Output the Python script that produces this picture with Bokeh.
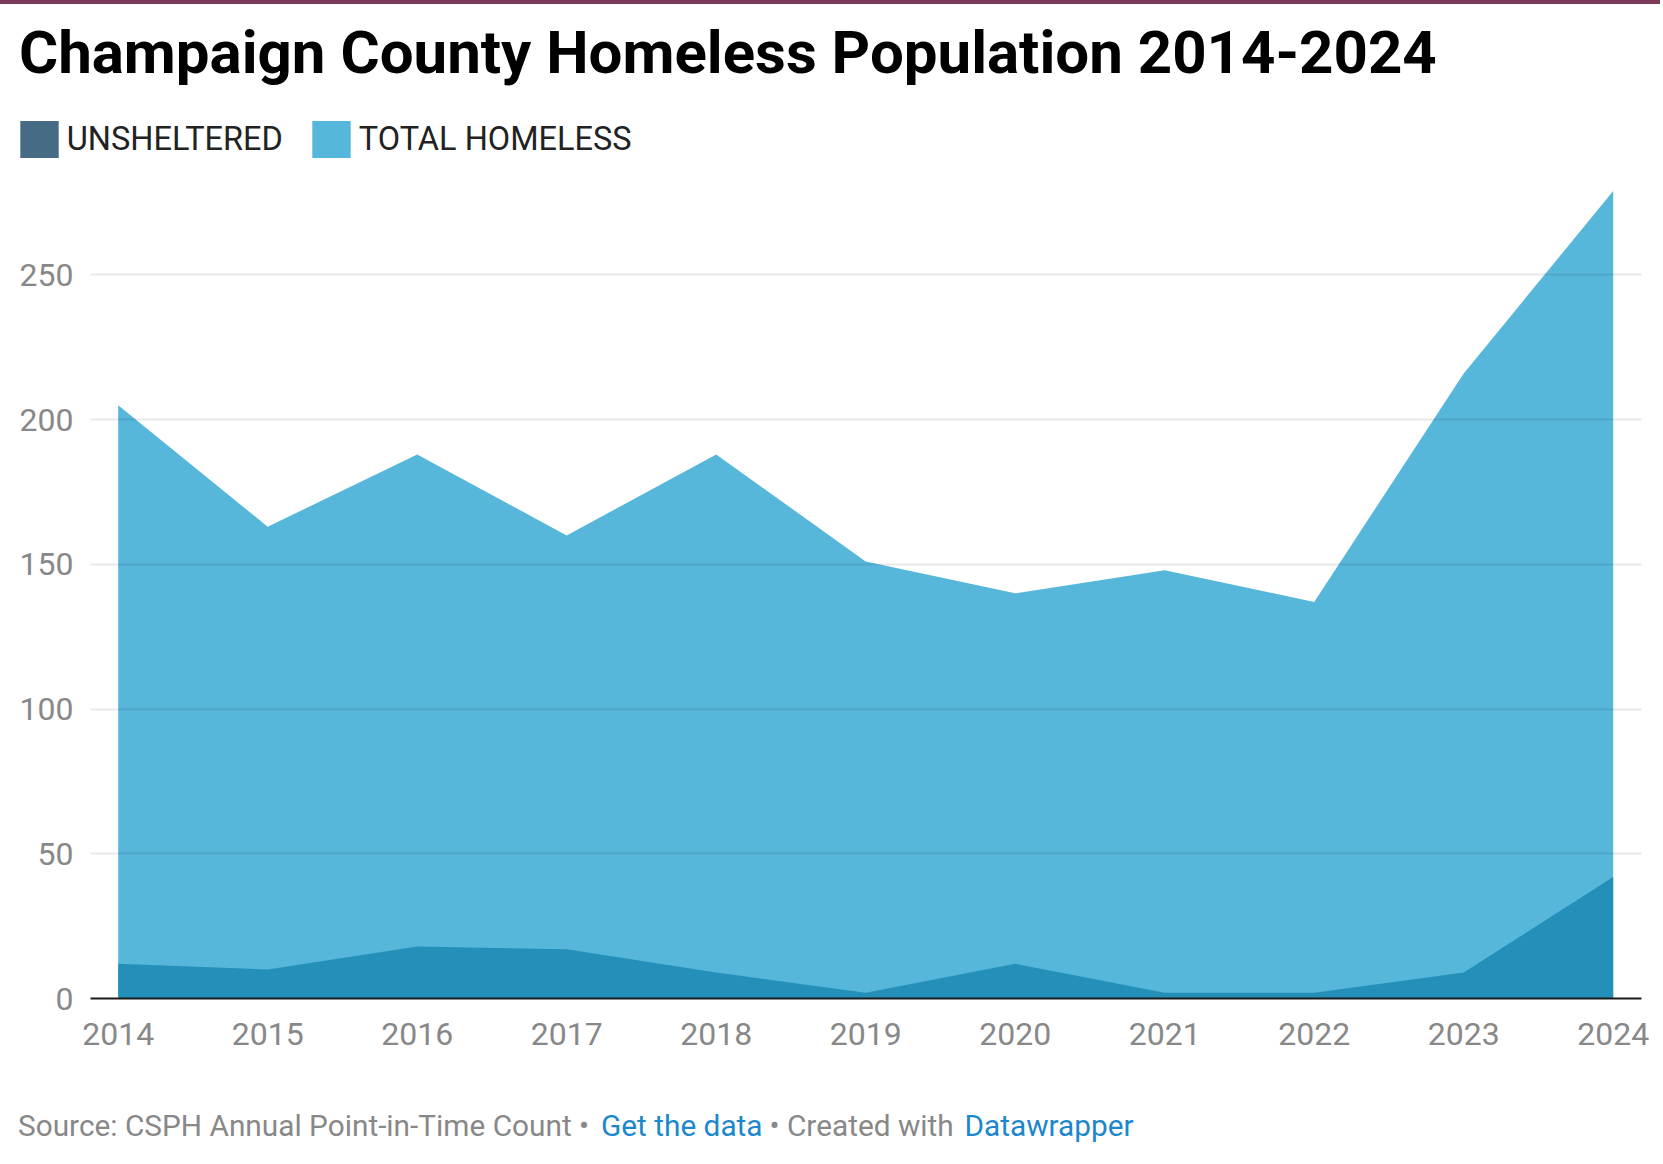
from bokeh.plotting import figure
from bokeh.models import Range1d, FixedTicker, Label, Legend, LegendItem, Div
from bokeh.layouts import column
from bokeh.embed import file_html
from bokeh.resources import INLINE

# ---------------- data ----------------
years = [2014, 2015, 2016, 2017, 2018, 2019, 2020, 2021, 2022, 2023, 2024]
total_homeless = [205, 163, 188, 160, 188, 151, 140, 148, 137, 216, 279]
unsheltered = [12, 10, 18, 17, 9, 2, 12, 2, 2, 9, 42]
year_labels = [str(y) for y in years]
y_ticks = [0, 50, 100, 150, 200, 250]
grid_ticks = [50, 100, 150, 200, 250]
series_names = ["UNSHELTERED", "TOTAL HOMELESS"]

title_text = "Champaign County Homeless Population 2014-2024"
footer_parts = ["Source: CSPH Annual Point-in-Time Count \u2022", "Get the data",
                "\u2022 Created with", "Datawrapper"]

# ---------------- style ----------------
FONT = "Roboto"
C_TOTAL = "#56b7db"
C_UNSH = "#2490ba"
C_LEG_UNSH = "#456b85"
C_LEG_TOTAL = "#56b7dc"
C_AXIS_TXT = "#888888"
C_LINK = "#1d87cc"

W = 1660


def blank_fig(height):
    f = figure(width=W, height=height, output_backend="svg", toolbar_location=None,
               x_axis_location=None, y_axis_location=None,
               x_range=Range1d(0, 1), y_range=Range1d(0, 1),
               min_border_left=0, min_border_right=0, min_border_top=0,
               min_border_bottom=0)
    f.outline_line_color = None
    f.grid.visible = False
    try:
        f.frame_align = False
    except Exception:
        pass
    return f


# ---------------- header (title + legend) ----------------
HH = 162
head = blank_fig(HH)
head.add_layout(Label(x=18.4, y=114.5, x_units="screen", y_units="screen",
                      text=title_text, text_font=FONT, text_font_size="60px",
                      text_font_style="bold", text_color="#000000",
                      text_baseline="alphabetic", text_align="left"))
# hidden copies of the series, used only for the legend swatches
leg_u = head.varea(x=years, y1=0, y2=unsheltered, fill_color=C_LEG_UNSH, visible=False)
leg_t = head.varea(x=years, y1=0, y2=total_homeless, fill_color=C_LEG_TOTAL, visible=False)
legend = Legend(items=[LegendItem(label=series_names[0], renderers=[leg_u]),
                       LegendItem(label=series_names[1], renderers=[leg_t])],
                orientation="horizontal", location=(14.8, 3.6),
                glyph_width=48, glyph_height=46, label_standoff=4,
                spacing=24, padding=0, margin=0, border_line_color=None,
                background_fill_alpha=0, inactive_fill_alpha=0,
                label_text_font=FONT,
                label_text_font_size="32.5px", label_text_color="#222222")
head.add_layout(legend)

# ---------------- main chart ----------------
p = figure(width=W, height=894, output_backend="svg", toolbar_location=None,
           x_range=Range1d(2013.8147, 2024.1893), y_range=Range1d(0, 286.1),
           min_border_left=90, min_border_right=19, min_border_top=4,
           min_border_bottom=62)
p.outline_line_color = None
try:
    p.frame_align = False
except Exception:
    pass

p.varea(x=years, y1=0, y2=total_homeless, fill_color=C_TOTAL)
p.varea(x=years, y1=0, y2=unsheltered, fill_color=C_UNSH)

p.xgrid.visible = False
p.ygrid.ticker = FixedTicker(ticks=grid_ticks)
p.ygrid.grid_line_color = "#000000"
p.ygrid.grid_line_alpha = 0.09
p.ygrid.grid_line_width = 2
p.ygrid.level = "overlay"

p.yaxis.ticker = FixedTicker(ticks=y_ticks)
p.yaxis.axis_line_color = None
p.yaxis.major_tick_line_color = None
p.yaxis.minor_tick_line_color = None
p.yaxis.major_tick_out = 0
p.yaxis.major_tick_in = 0
p.yaxis.major_label_text_font = FONT
p.yaxis.major_label_text_font_size = "32px"
p.yaxis.major_label_text_color = C_AXIS_TXT
p.yaxis.major_label_standoff = 17

p.xaxis.ticker = FixedTicker(ticks=years)
p.xaxis.major_label_overrides = {y: l for y, l in zip(years, year_labels)}
p.xaxis.axis_line_color = "#1a1a1a"
p.xaxis.axis_line_width = 2
p.xaxis.major_tick_line_color = None
p.xaxis.minor_tick_line_color = None
p.xaxis.major_tick_out = 0
p.xaxis.major_tick_in = 0
p.xaxis.major_label_text_font = FONT
p.xaxis.major_label_text_font_size = "32px"
p.xaxis.major_label_text_color = C_AXIS_TXT
p.xaxis.major_label_standoff = 24

# ---------------- footer ----------------
FH = 100
foot = blank_fig(FH)
foot_x = [17.5, 600.5, 769, 964]
foot_c = [C_AXIS_TXT, C_LINK, C_AXIS_TXT, C_LINK]
for txt, fx, fc in zip(footer_parts, foot_x, foot_c):
    foot.add_layout(Label(x=fx, y=35.5, x_units="screen", y_units="screen",
                          text=txt, text_font=FONT, text_font_size="29.8px",
                          text_color=fc, text_baseline="alphabetic",
                          text_align="left"))

bar = Div(text="", width=W, height=4, margin=0,
          styles={"background-color": "#7d3a5b"})

layout = column(bar, head, p, foot, spacing=0)
open("out.html", "w").write(file_html(layout, INLINE))
